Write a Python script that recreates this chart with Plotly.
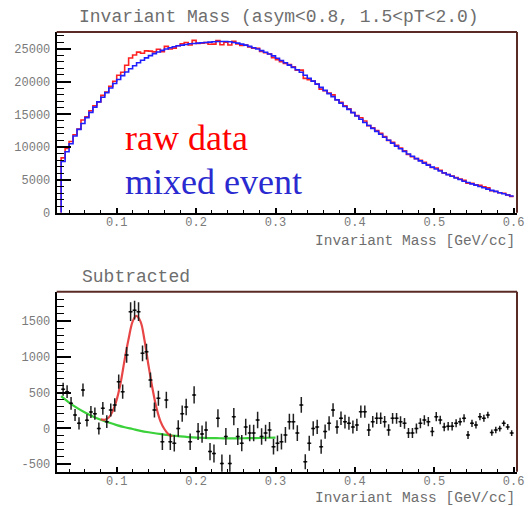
import numpy as np
import plotly.graph_objects as go

# ---------------- data ----------------
BIN_LO = 0.03
BIN_W = 0.005

mixed_event = [
    7800, 9300, 10500, 11700, 12700, 13600, 14500, 15300, 16100, 16900,
    17600, 18300, 19000, 19700, 20300, 20900, 21450, 21950, 22400, 22850,
    23250, 23600, 23950, 24250, 24500, 24750, 24950, 25150, 25300, 25450,
    25550, 25650, 25750, 25800, 25850, 25900, 25950, 26000, 26050, 26100,
    26100, 26100, 26050, 25950, 25850, 25700, 25550, 25350, 25150, 24950,
    24700, 24450, 24200, 23900, 23550, 23200, 22850, 22500, 22150, 21800,
    21400, 20950, 20500, 20050, 19600, 19100, 18650, 18150, 17700, 17200,
    16700, 16200, 15750, 15250, 14750, 14250, 13750, 13300, 12850, 12400,
    11950, 11500, 11050, 10600, 10150, 9750, 9350, 8950, 8600, 8250,
    7900, 7550, 7250, 6950, 6650, 6350, 6050, 5800, 5550, 5300,
    5050, 4800, 4600, 4400, 4200, 4000, 3800, 3600, 3400, 3250,
    3050, 2900, 2700, 2550,
]

raw_data = [
    8350, 9810, 10850, 11890, 12770, 14140, 14610, 15530, 16310, 16900,
    17880, 18390, 19260, 20030, 20950, 21410, 22470, 23580, 24050, 24480,
    24300, 24670, 24630, 24510, 24920, 24560, 25350, 24960, 25090, 25450,
    25760, 25950, 25560, 26270, 25810, 25820, 25930, 25680, 25700, 26240,
    25610, 25990, 25560, 26110, 25740, 25490, 25570, 25280, 25080, 25070,
    24590, 24380, 24180, 23640, 23340, 23010, 22760, 22590, 22240, 21730,
    21730, 20480, 20290, 20050, 19620, 18840, 18600, 18220, 17960, 17220,
    16840, 16290, 15820, 15270, 14800, 14480, 13980, 13280, 12940, 12540,
    12090, 11590, 11030, 10740, 10290, 9840, 9420, 8880, 8530, 8250,
    7970, 7670, 7340, 6900, 6810, 6470, 6070, 5830, 5580, 5370,
    5140, 4940, 4510, 4470, 4250, 4160, 3940, 3790, 3340, 3230,
    3050, 2970, 2720, 2480,
]

subtracted = [
    545, 512, 349, 186, 70, 535, 112, 228, 205, -3,
    279, 93, 256, 326, 652, 512, 1024, 1629, 1650, 1629,
    1047, 1071, 675, 256, 419, -187, 396, -187, -210, -3,
    205, 298, -187, 466, -45, -80, -25, -325, -352, 140,
    -491, -114, -491, 163, -114, -207, 19, -67, -67, 116,
    -114, -67, -23, -256, -210, -187, -93, 93, 93, -67,
    326, -467, -210, -3, 19, -256, -46, 70, 256, 19,
    140, 93, 70, 19, 47, 233, 233, -23, 93, 140,
    140, 93, -23, 140, 140, 93, 70, -67, -67, -3,
    70, 116, 93, -46, 163, 116, 19, 28, 28, 70,
    93, 140, -93, 70, 47, 163, 140, 186, -60, -23,
    -3, 70, 19, -67,
]

sub_err = [
    90, 90, 90, 85, 85, 90, 85, 85, 85, 85,
    90, 90, 90, 95, 100, 100, 110, 130, 130, 130,
    110, 110, 105, 105, 105, 115, 115, 115, 115, 115,
    115, 115, 115, 120, 120, 120, 120, 120, 125, 125,
    125, 120, 120, 120, 120, 115, 115, 115, 115, 115,
    115, 115, 110, 110, 110, 110, 110, 110, 110, 110,
    110, 105, 105, 100, 100, 100, 100, 100, 95, 95,
    95, 95, 90, 90, 85, 85, 85, 85, 80, 80,
    80, 80, 80, 75, 75, 75, 75, 70, 70, 70,
    70, 65, 65, 65, 65, 60, 60, 60, 60, 55,
    55, 55, 55, 50, 50, 50, 50, 45, 45, 45,
    40, 40, 40, 40,
]

bg_fit_x = [0.03, 0.04, 0.05, 0.06, 0.07, 0.08, 0.09, 0.10, 0.11, 0.12,
            0.13, 0.14, 0.15, 0.16, 0.17, 0.18, 0.19, 0.20, 0.21, 0.22,
            0.23, 0.24, 0.25, 0.26, 0.27, 0.28, 0.29, 0.30]
bg_fit_y = [450, 360, 285, 220, 165, 120, 80, 45, 15, -10,
            -35, -55, -72, -88, -102, -113, -122, -129, -134, -137,
            -139, -140, -140, -139, -137, -135, -132, -130]

peak_fit_x = [0.080, 0.085, 0.090, 0.095, 0.100, 0.105, 0.110, 0.115, 0.120,
              0.1245, 0.130, 0.135, 0.140, 0.145, 0.150, 0.155, 0.160, 0.165, 0.170]
peak_fit_y = [125, 120, 150, 240, 400, 640, 960, 1250, 1490,
              1570, 1490, 1230, 880, 560, 290, 100, -10, -80, -110]

x_ticks = [0.1, 0.2, 0.3, 0.4, 0.5, 0.6]
top_y_ticks = [0, 5000, 10000, 15000, 20000, 25000]
bot_y_ticks = [-500, 0, 500, 1000, 1500]

# ---------------- derived positions ----------------
n = len(mixed_event)
assert len(raw_data) == n and len(subtracted) == n and len(sub_err) == n
centers = BIN_LO + BIN_W * (np.arange(n) + 0.5)
edges = BIN_LO + BIN_W * np.arange(n + 1)


def step(vals):
    xs = np.concatenate([[edges[0]], edges])
    ys = np.concatenate([[0], vals, [vals[-1]]])
    return xs, ys


W, H = 531, 506
def px(x):
    return x / W
def py(y):
    return 1 - y / H

X_RANGE = [0.0244, 0.6042]
XDOM = [px(56.7), px(517)]
TOP_DOM = [py(212.7), py(32)]
BOT_DOM = [py(471.7), py(291.7)]

MONO = "Liberation Mono, Courier New, monospace"
SERIF = "Liberation Serif, Times New Roman, serif"
TICKCOL = "#7a7a7a"

fig = go.Figure()

xr, yr = step(raw_data)
fig.add_trace(go.Scatter(x=xr, y=yr, mode="lines", line=dict(color="#ff2020", width=1.6, shape="hv"),
                         xaxis="x", yaxis="y", showlegend=False, hoverinfo="skip"))
xm, ym = step(mixed_event)
fig.add_trace(go.Scatter(x=xm, y=ym, mode="lines", line=dict(color="#1f1fff", width=1.6, shape="hv"),
                         xaxis="x", yaxis="y", showlegend=False, hoverinfo="skip"))

fig.add_trace(go.Scatter(x=bg_fit_x, y=bg_fit_y, mode="lines",
                         line=dict(color="#3ad13a", width=2.2, shape="spline"),
                         xaxis="x2", yaxis="y2", showlegend=False, hoverinfo="skip"))
fig.add_trace(go.Scatter(x=peak_fit_x, y=peak_fit_y, mode="lines",
                         line=dict(color="rgba(230,50,50,0.9)", width=2.2, shape="spline"),
                         xaxis="x2", yaxis="y2", showlegend=False, hoverinfo="skip"))
fig.add_trace(go.Scatter(x=centers, y=subtracted, mode="markers",
                         marker=dict(color="black", size=2),
                         error_y=dict(type="data", array=sub_err, color="#202020", thickness=1.5, width=0),
                         error_x=dict(type="constant", value=BIN_W / 2, color="#202020", thickness=1.5, width=0),
                         xaxis="x2", yaxis="y2", showlegend=False, hoverinfo="skip"))

tickfont = dict(family=MONO, size=12, color=TICKCOL)

def xaxis_cfg(anchor):
    return dict(domain=XDOM, range=X_RANGE, anchor=anchor, showgrid=False, zeroline=False,
                showline=True, linecolor="black", linewidth=2, mirror=False,
                ticks="inside", ticklen=5, tickwidth=1.5, tickcolor="black",
                tickvals=x_ticks, ticktext=[f"{v:.1f}" for v in x_ticks],
                tickfont=tickfont, ticklabelstandoff=-3,
                minor=dict(ticks="inside", ticklen=3, tickwidth=1, tickcolor="black", dtick=0.02, tick0=0),
                automargin=False, fixedrange=True)

def yaxis_cfg(anchor, dom, rng, tv, minor_dt):
    return dict(domain=dom, range=rng, anchor=anchor, showgrid=False, zeroline=False,
                showline=True, linecolor="black", linewidth=2, mirror=False,
                ticks="inside", ticklen=14, tickwidth=1.5, tickcolor="black",
                tickvals=tv, ticktext=[str(v) for v in tv],
                tickfont=tickfont, ticklabelstandoff=2,
                minor=dict(ticks="inside", ticklen=7, tickwidth=1, tickcolor="black", dtick=minor_dt, tick0=0),
                automargin=False, fixedrange=True)

fig.update_layout(
    width=W, height=H,
    margin=dict(l=0, r=0, t=0, b=0),
    paper_bgcolor="white", plot_bgcolor="white",
    xaxis=xaxis_cfg("y"),
    yaxis=yaxis_cfg("x", TOP_DOM, [0, 27545], top_y_ticks, 1000),
    xaxis2=xaxis_cfg("y2"),
    yaxis2=yaxis_cfg("x2", BOT_DOM, [-606, 1908], bot_y_ticks, 100),
)

# frame top / right edges
FRAME = "#5a2a24"
for dom in (TOP_DOM, BOT_DOM):
    fig.add_shape(type="line", xref="paper", yref="paper", x0=XDOM[0], x1=XDOM[1], y0=dom[1], y1=dom[1],
                  line=dict(color=FRAME, width=2))
    fig.add_shape(type="line", xref="paper", yref="paper", x0=XDOM[1], x1=XDOM[1], y0=dom[0], y1=dom[1],
                  line=dict(color=FRAME, width=2))

ann = [
    dict(text="Invariant Mass (asym&lt;0.8, 1.5&lt;pT&lt;2.0)", x=px(279), y=py(17), xanchor="center", yanchor="middle",
         font=dict(family=MONO, size=18, color="#6e6e6e")),
    dict(text="Subtracted", x=px(80), y=py(277), xanchor="left", yanchor="middle",
         font=dict(family=MONO, size=18, color="#6e6e6e")),
    dict(text="Invariant Mass [GeV/cc]", x=px(517), y=py(241), xanchor="right", yanchor="middle",
         font=dict(family=MONO, size=14.5, color="#6e6e6e")),
    dict(text="Invariant Mass [GeV/cc]", x=px(517), y=py(498), xanchor="right", yanchor="middle",
         font=dict(family=MONO, size=14.5, color="#6e6e6e")),
    dict(text="raw data", x=px(123), y=py(138), xanchor="left", yanchor="middle",
         font=dict(family=SERIF, size=36, color="#ff0000")),
    dict(text="mixed event", x=px(123), y=py(182), xanchor="left", yanchor="middle",
         font=dict(family=SERIF, size=36, color="#2a2ad0")),
]
for a in ann:
    a.update(xref="paper", yref="paper", showarrow=False)
fig.update_layout(annotations=ann)

fig.write_html("out.html")
